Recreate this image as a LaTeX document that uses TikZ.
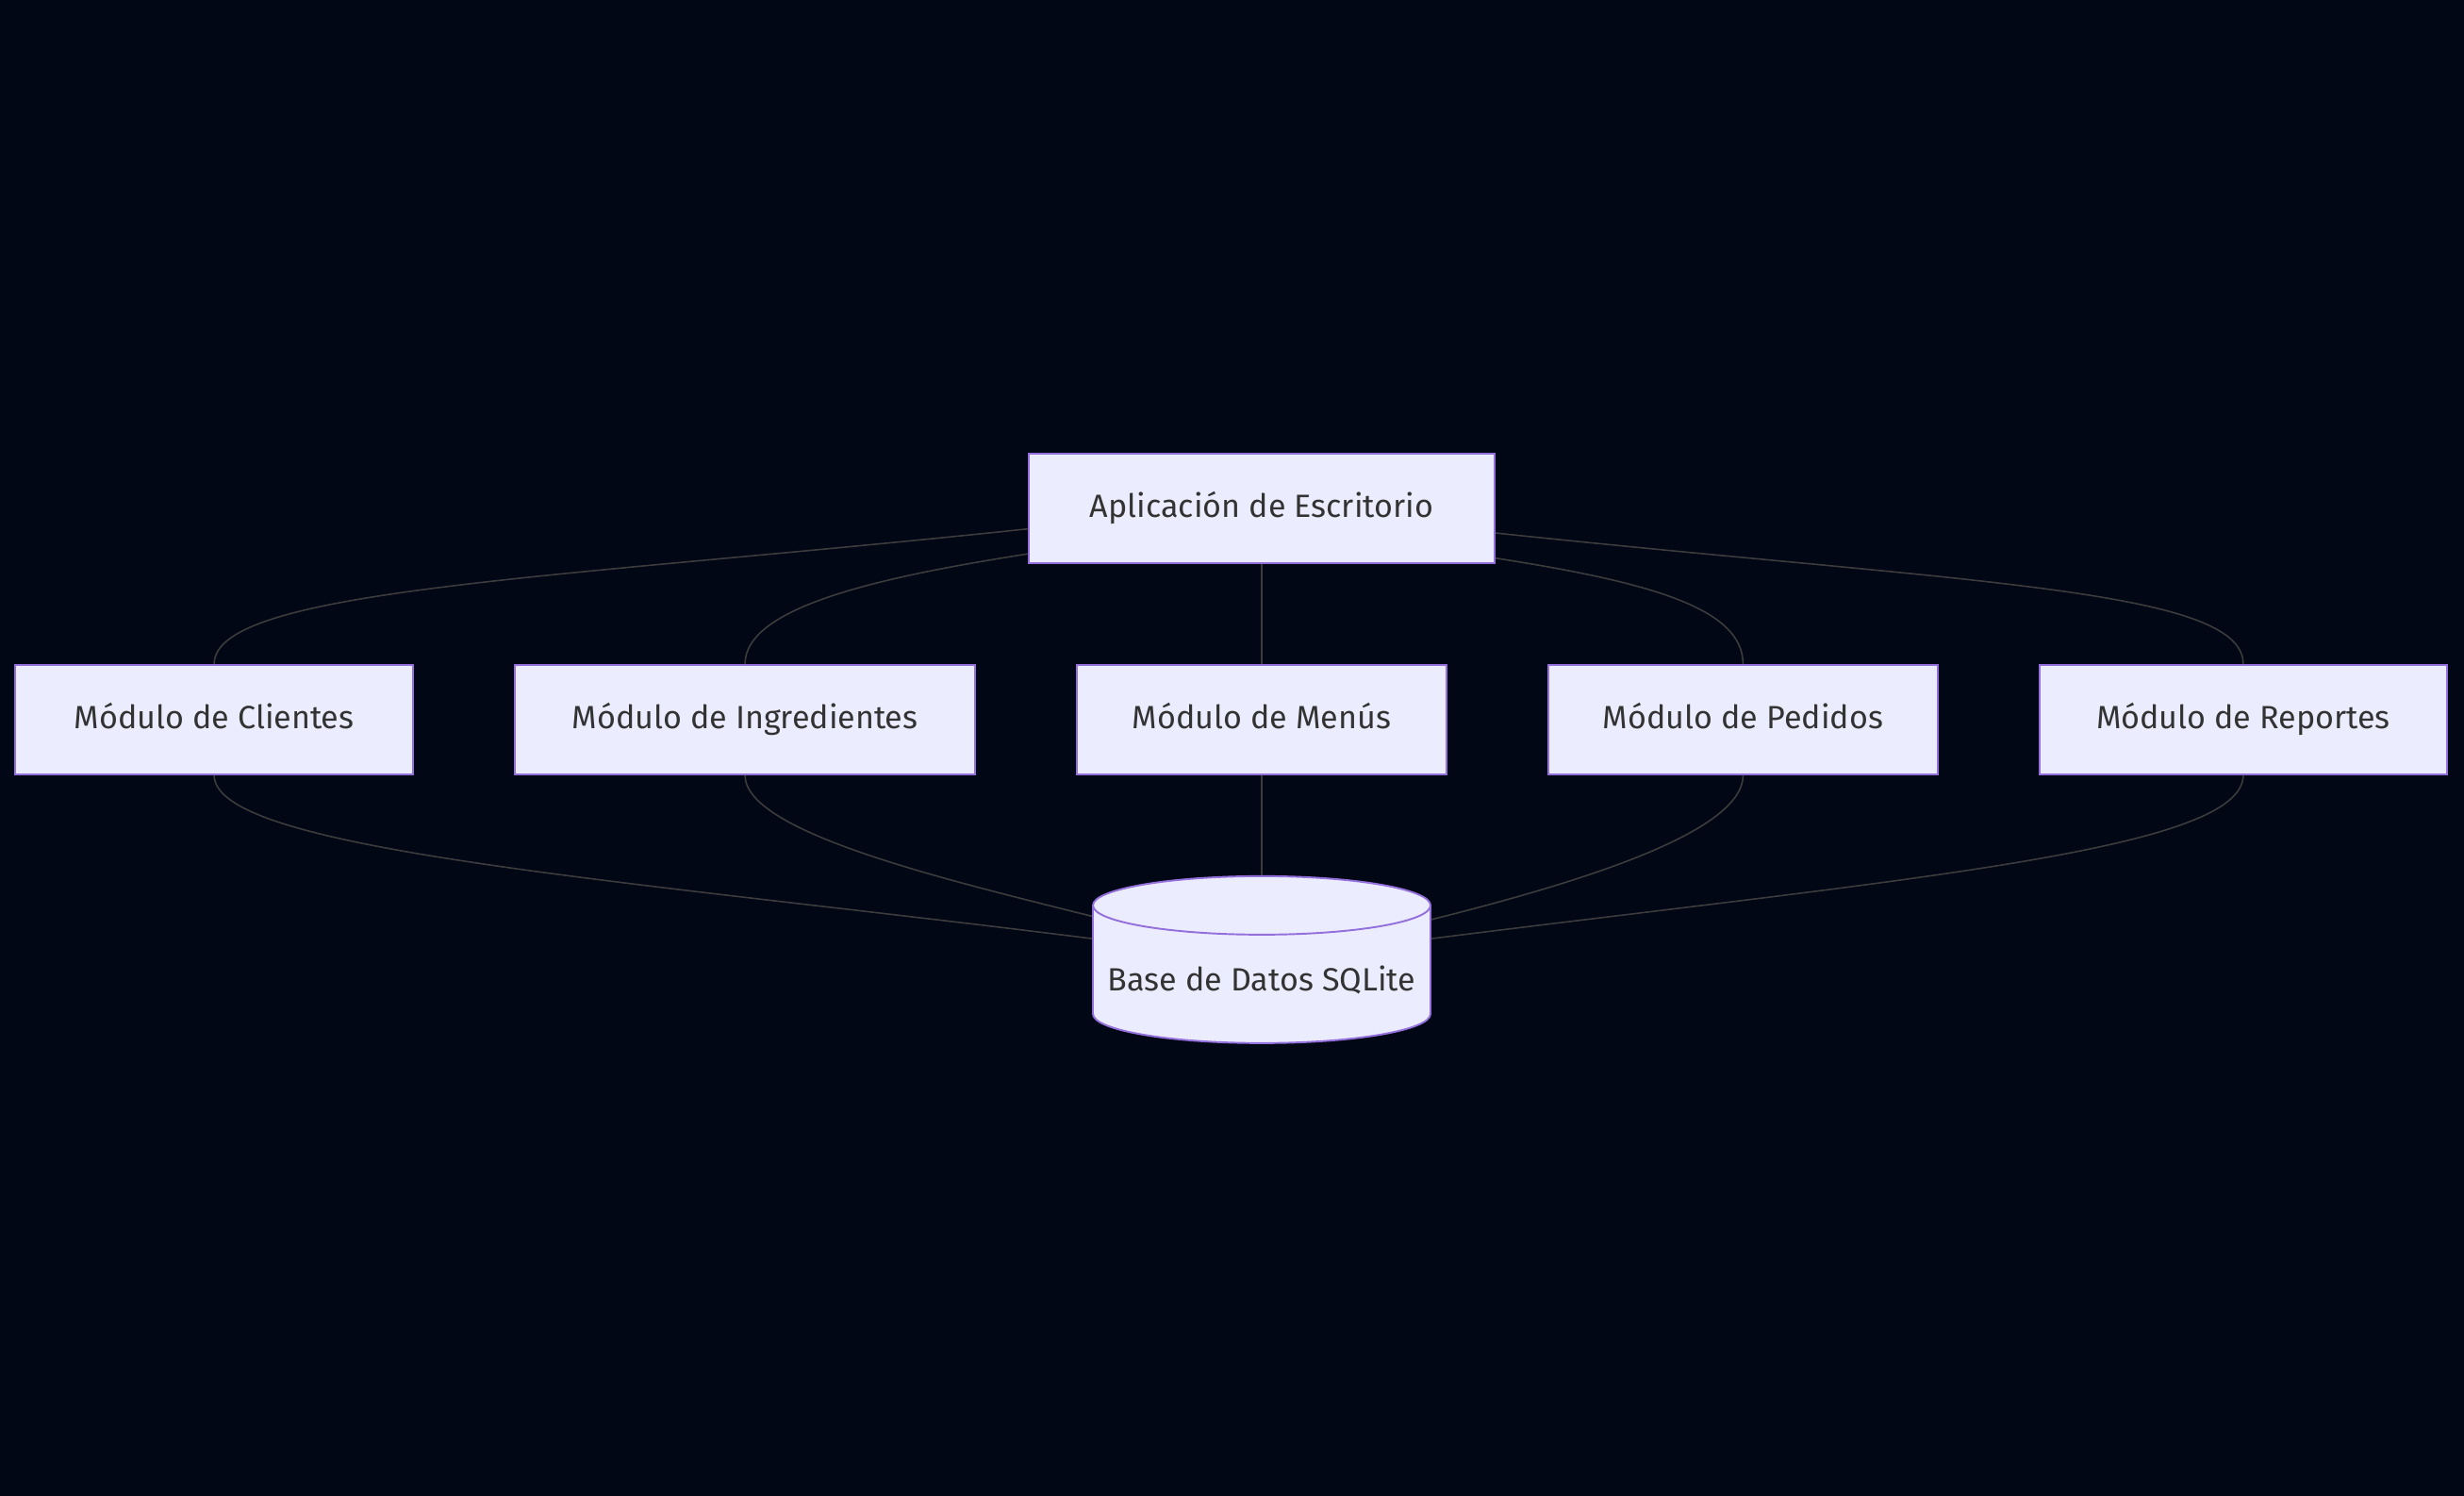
\documentclass[tikz,border=0pt]{standalone}
\usepackage{fontspec}
\setmainfont{Fira Sans}
\usetikzlibrary{positioning,shapes.geometric,calc}
\definecolor{bgdark}{RGB}{2,7,22}
\definecolor{boxfill}{RGB}{236,236,255}
\definecolor{boxline}{RGB}{147,112,219}
\definecolor{textgray}{RGB}{51,51,51}
\definecolor{linkgray}{RGB}{60,60,60}

\begin{document}
\begin{tikzpicture}[node distance=1.06cm,
        modbox/.style={rectangle, draw=boxline, fill=boxfill, line width=0.55pt, minimum height=1.16cm, inner sep=0pt, text=textgray, text height=0.26cm, text depth=0.06cm, font=\fontsize{9.7}{12}\selectfont},
        dbbox/.style={cylinder, shape border rotate=90, aspect=0.19, draw=boxline, fill=boxfill, line width=0.55pt, minimum width=3.58cm, minimum height=1.77cm, inner sep=0pt, text=textgray, text height=0.40cm, text depth=0.06cm, font=\fontsize{9.7}{12}\selectfont},
        link/.style={draw=linkgray, line width=0.45pt}
    ]
    \fill[bgdark] (0,0) rectangle (26.13,-15.86);

    \node[modbox, minimum width=4.94cm] (app) at (13.38,-5.39) {Aplicación de Escritorio};
    \node[modbox, minimum width=3.92cm, below=of app] (men) {Módulo de Menús};
    \node[modbox, minimum width=4.88cm, left=of men] (ing) {Módulo de Ingredientes};
    \node[modbox, minimum width=4.22cm, left=of ing] (cli) {Módulo de Clientes};
    \node[modbox, minimum width=4.13cm, right=of men] (ped) {Módulo de Pedidos};
    \node[modbox, minimum width=4.32cm, right=of ped] (rep) {Módulo de Reportes};
    \node[dbbox, below=of men] (db) {Base de Datos SQLite};

    % app -> modulos
    \draw[link] (app.185.8) .. controls +(-5.0,-0.53) and +(0,0.8) .. (cli.north);
    \draw[link] (app.191.5) .. controls +(-1.6,-0.25) and +(0,0.6) .. (ing.north);
    \draw[link] (app.south) -- (men.north);
    \draw[link] (app.348.5) .. controls +(1.6,-0.25) and +(0,0.6) .. (ped.north);
    \draw[link] (app.354.2) .. controls +(5.0,-0.53) and +(0,0.8) .. (rep.north);

    % modulos -> base de datos
    \draw[link] (cli.south) .. controls +(0,-0.8) and +(-5.0,0.63) .. (db.168);
    \draw[link] (ing.south) .. controls +(0,-0.6) and +(-1.6,0.4) .. (db.161.2);
    \draw[link] (men.south) -- (db.north);
    \draw[link] (ped.south) .. controls +(0,-0.6) and +(1.6,0.4) .. (db.18.8);
    \draw[link] (rep.south) .. controls +(0,-0.8) and +(5.0,0.63) .. (db.12);
\end{tikzpicture}
\end{document}
